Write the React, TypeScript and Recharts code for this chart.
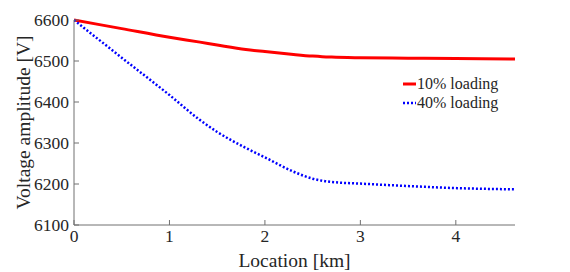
import React from 'react';
import {
  LineChart,
  Line,
  XAxis,
  YAxis,
  Legend,
  Label,
} from 'recharts';

const locations = [0, 0.5, 1.0, 1.32, 1.5, 1.8, 2.0, 2.3, 2.5, 2.6, 2.7, 3.0, 3.5, 4.0, 4.62];
const loading10 = [6600, 6579, 6558, 6546, 6539, 6528, 6523, 6516, 6512, 6510.5, 6509.5, 6508, 6507, 6506, 6505];
const loading40 = [6600, 6508, 6417, 6356, 6327, 6288, 6265, 6230, 6213, 6208, 6205, 6201, 6195, 6190, 6187];
const xTicks = [0, 1, 2, 3, 4];
const yTicks = [6100, 6200, 6300, 6400, 6500, 6600];

const data = locations.map((x, i) => ({ x, a: loading10[i], b: loading40[i] }));

const font = '"Liberation Serif", "Times New Roman", serif';
const axisColor = '#707070';
const textColor = '#262626';

function LegendBox({ payload }: any) {
  return (
    <div style={{ fontFamily: font, fontSize: 16, color: textColor, lineHeight: '19px' }}>
      {(payload || []).map((p: any) => (
        <div key={p.value} style={{ display: 'flex', alignItems: 'center' }}>
          <svg width={14} height={10}>
            <line
              x1={0}
              y1={5}
              x2={13}
              y2={5}
              stroke={p.color}
              strokeWidth={p.value.startsWith('10') ? 3 : 2.5}
              strokeDasharray={p.value.startsWith('10') ? undefined : '2 2'}
            />
          </svg>
          <span>{p.value}</span>
        </div>
      ))}
    </div>
  );
}

export default function App() {
  return (
    <div style={{ width: 554, height: 264, background: '#fff' }}>
      <LineChart width={554} height={264} data={data} margin={{ top: 12, right: 47, bottom: 0, left: 0 }}>
        <XAxis
          dataKey="x"
          type="number"
          domain={[0, 4.62]}
          ticks={xTicks}
          allowDataOverflow
          stroke={axisColor}
          tickSize={-5}
          tickMargin={10}
          height={47}
          tick={{ fontFamily: font, fontSize: 17.5, fill: textColor }}
        >
          <Label
            value="Location [km]"
            position="insideBottom"
            offset={5}
            style={{ fontFamily: font, fontSize: 19.5, fill: textColor }}
          />
        </XAxis>
        <XAxis
          xAxisId="top"
          dataKey="x"
          type="number"
          orientation="top"
          domain={[0, 4.62]}
          ticks={xTicks}
          allowDataOverflow
          stroke={axisColor}
          tickSize={-5}
          height={0}
          tick={false}
        />
        <YAxis
          type="number"
          domain={[6100, 6600]}
          ticks={yTicks}
          stroke={axisColor}
          tickSize={-5}
          tickMargin={10}
          width={66}
          tick={{ fontFamily: font, fontSize: 17.5, fill: textColor }}
        >
          <Label
            value="Voltage amplitude [V]"
            angle={-90}
            position="insideLeft"
            offset={15}
            style={{ textAnchor: 'middle', fontFamily: font, fontSize: 19.5, fill: textColor }}
          />
        </YAxis>
        <YAxis
          yAxisId="right"
          type="number"
          orientation="right"
          domain={[6100, 6600]}
          ticks={yTicks}
          stroke={axisColor}
          tickSize={-5}
          width={0}
          tick={false}
        />
        <Legend
          layout="vertical"
          verticalAlign="middle"
          align="center"
          content={<LegendBox />}
          wrapperStyle={{ left: 395, top: 66, width: 'auto' }}
        />
        <Line
          type="monotone"
          dataKey="a"
          name="10% loading"
          stroke="#ff0000"
          strokeWidth={3}
          dot={false}
          isAnimationActive={false}
        />
        <Line
          type="monotone"
          dataKey="b"
          name="40% loading"
          stroke="#0000ff"
          strokeWidth={2.5}
          strokeDasharray="2 2"
          dot={false}
          isAnimationActive={false}
        />
      </LineChart>
    </div>
  );
}
